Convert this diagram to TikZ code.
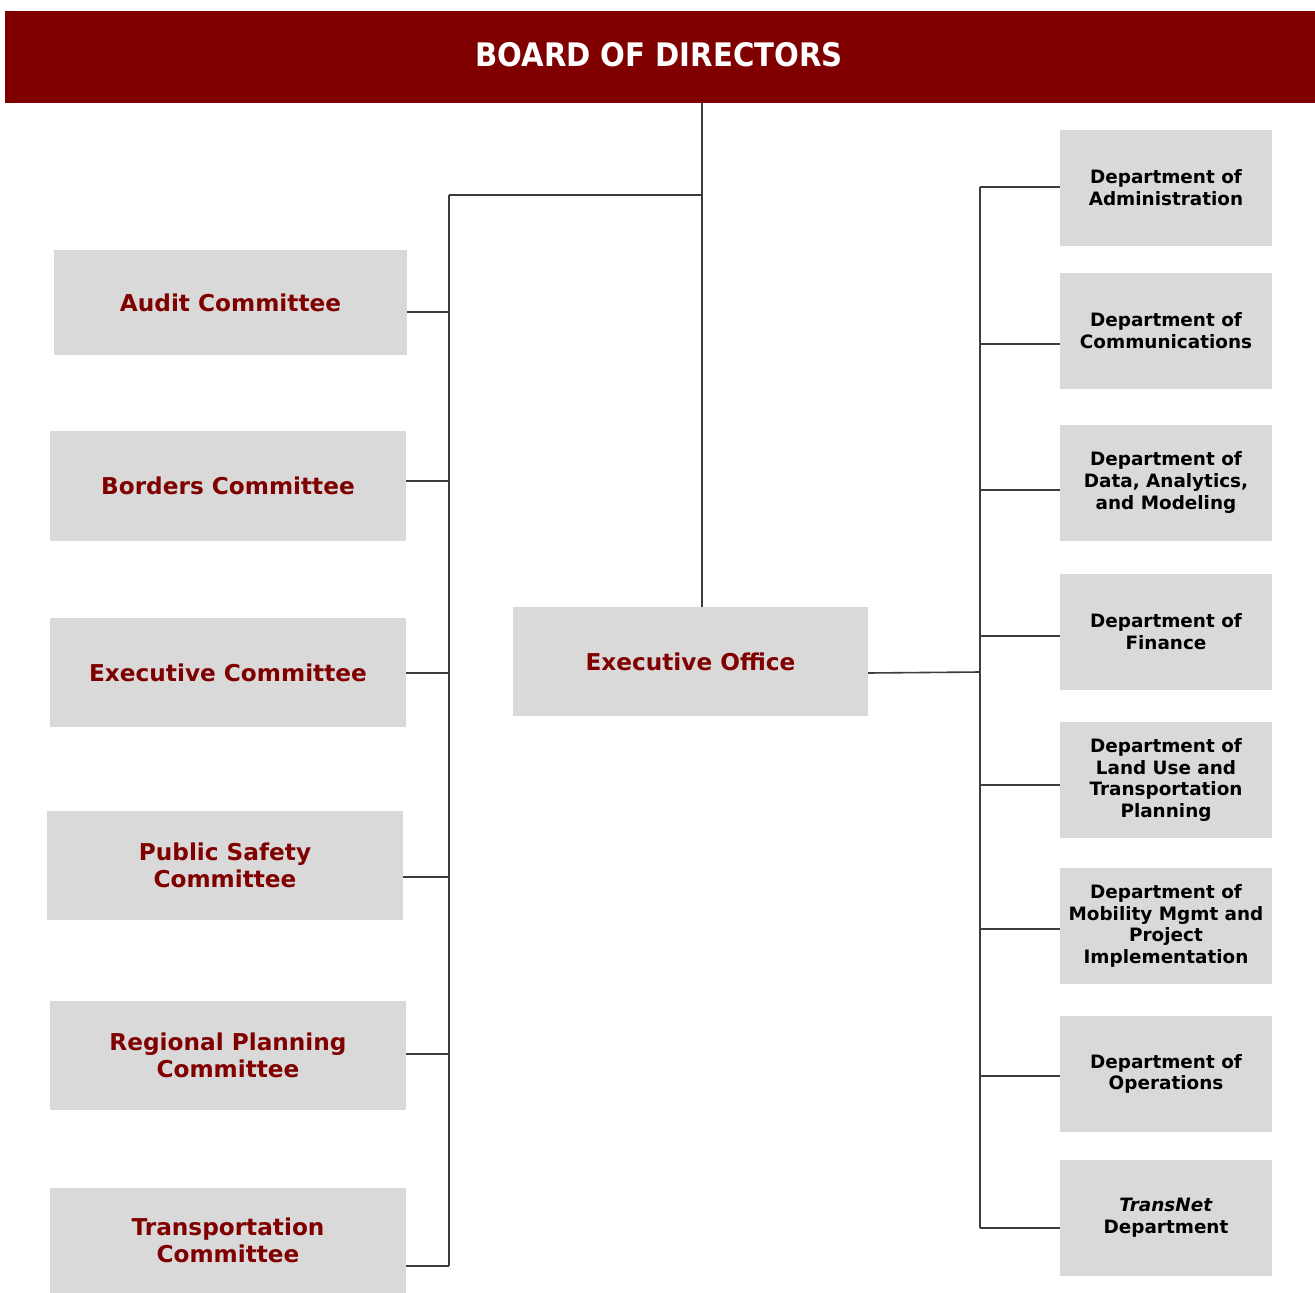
\documentclass[tikz,border=0pt]{standalone}
\usepackage{fontspec}
\setmainfont{DejaVu Sans}
\newfontfamily\titlefont{DejaVu Sans Condensed}
\definecolor{boardred}{HTML}{800000}
\definecolor{boxgray}{HTML}{D9D9D9}
\definecolor{linegray}{HTML}{3C3C3C}
\tikzset{
  committee/.style={fill=boxgray, text=boardred, font=\bfseries\fontsize{23.2}{27}\selectfont, align=center, inner sep=0pt},
  dept/.style={fill=boxgray, text=black, font=\bfseries\fontsize{18.4}{21.8}\selectfont, align=center, inner sep=0pt, minimum width=212pt, minimum height=116pt},
  link/.style={draw=linegray, line width=1.6pt}
}

\begin{document}
\begin{tikzpicture}[x=1pt, y=-1pt]
    \useasboundingbox (0,0) rectangle (1315,1293);
    \node[fill=boardred, text=white, font=\titlefont\bfseries\fontsize{32.4}{36}\selectfont, minimum width=1310pt, minimum height=92pt, inner sep=0pt] at (660, 57) (board) {};
    \node[text=white, font=\titlefont\bfseries\fontsize{32.4}{36}\selectfont, inner sep=0pt] at (659, 55) (boardtext) {BOARD OF DIRECTORS};

    \node[committee, minimum width=353pt, minimum height=105pt] at (230.5, 302.5) (audit) {Audit Committee};
    \node[committee, minimum width=356pt, minimum height=110pt] at (228, 486) (borders) {Borders Committee};
    \node[committee, minimum width=356pt, minimum height=109pt] at (228, 672.5) (execcom) {Executive Committee};
    \node[committee, minimum width=356pt, minimum height=109pt] at (225, 865.5) (safety) {Public Safety\\Committee};
    \node[committee, minimum width=356pt, minimum height=109pt] at (228, 1055.5) (regional) {Regional Planning\\Committee};
    \node[committee, minimum width=356pt, minimum height=105pt] at (228, 1240.5) (transport) {Transportation\\Committee};

    \node[committee, minimum width=355pt, minimum height=109pt] at (690.5, 661.5) (office) {Executive Office};

    \node[dept] at (1166, 188) (admin) {Department of\\Administration};
    \node[dept] at (1166, 331) (comms) {Department of\\Communications};
    \node[dept] at (1166, 482.5) (data) {Department of\\Data, Analytics,\\and Modeling};
    \node[dept] at (1166, 632) (finance) {Department of\\Finance};
    \node[dept] at (1166, 780) (landuse) {Department of\\Land Use and\\Transportation\\Planning};
    \node[dept] at (1166, 926) (mobility) {Department of\\Mobility Mgmt and\\Project\\Implementation};
    \node[dept] at (1166, 1074) (operations) {Department of\\Operations};
    \node[dept] at (1166, 1218) (transnet) {\textit{TransNet}\\Department};

    % board to office and committees
    \coordinate (trunk) at (702, 103);
    \coordinate (lefttop) at (449, 195);
    \coordinate (leftend) at (449, 1266);
    \draw[link] (trunk) -- (trunk |- office.north);
    \draw[link] (lefttop) -- (lefttop -| trunk);
    \draw[link] (lefttop) -- (leftend);
    \foreach \n/\y in {audit/312, borders/481, execcom/673, safety/877, regional/1054, transport/1266}
        \draw[link] (\n.east |- 0,\y) -- (449,\y);

    % office to departments
    \coordinate (righttop) at (980, 187);
    \coordinate (rightend) at (980, 1228);
    \draw[link] (righttop) -- (rightend);
    \draw[link] (office.east |- 0,673) -- (980,672);
    \foreach \n/\y in {admin/187, comms/344, data/490, finance/636, landuse/785, mobility/929, operations/1076, transnet/1228}
        \draw[link] (980,\y) -- (\n.west |- 0,\y);
\end{tikzpicture}
\end{document}
